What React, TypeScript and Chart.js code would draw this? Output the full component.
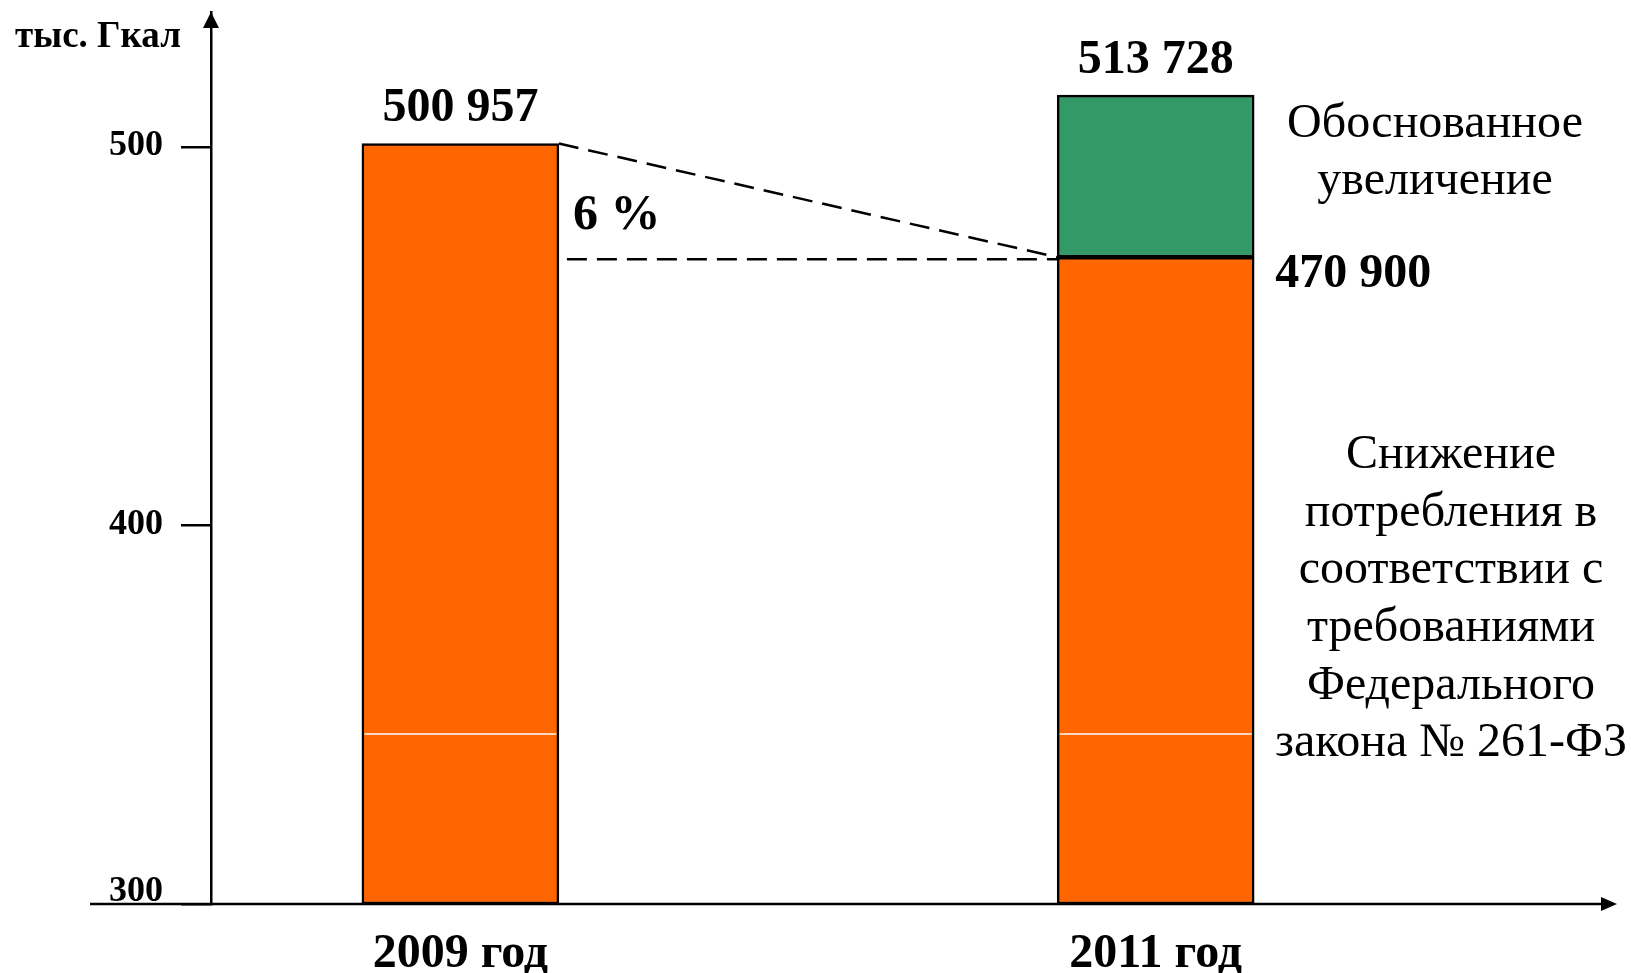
import React, { useEffect, useRef } from "react";
import { Chart, registerables } from "chart.js";

Chart.register(...registerables);

// ---- data ----
const categories = ["2009 год", "2011 год"];
const consumption = [500.957, 470.9]; // тыс. Гкал (orange part)
const totals = [null, 513.728]; // top of the green part (2011)
const yTicks = [300, 400, 500];
const splitValue = 344.9; // thin white line inside the orange bars
const axisMin = 300;
const axisMax = 535.7;
const unitLabel = "тыс. Гкал";
const increaseLabel = ["Обоснованное", "увеличение"];
const reductionLabel = [
  "Снижение",
  "потребления в",
  "соответствии с",
  "требованиями",
  "Федерального",
  "закона № 261-ФЗ",
];

const FAMILY = '"Liberation Serif", "Times New Roman", serif';
const ORANGE = "#FF6600";
const GREEN = "#339966";

const fmt = (v: number) =>
  Math.round(v * 1000)
    .toString()
    .replace(/\B(?=(\d{3})+(?!\d))/g, " ");

const annotations = {
  id: "annotations",
  afterDraw(chart: any) {
    const ctx = chart.ctx;
    const area = chart.chartArea;
    const ys = chart.scales.y;
    const orange = chart.getDatasetMeta(0).data;
    const green = chart.getDatasetMeta(1).data;
    const b0 = orange[0];
    const b1 = orange[1];
    const g1 = green[0];
    ctx.save();

    // thin white split lines inside orange bars
    const ySplit = ys.getPixelForValue(splitValue);
    ctx.strokeStyle = "#ffffff";
    ctx.lineWidth = 1.5;
    for (const b of orange) {
      ctx.beginPath();
      ctx.moveTo(b.x - b.width / 2 + 2.5, ySplit);
      ctx.lineTo(b.x + b.width / 2 - 2.5, ySplit);
      ctx.stroke();
    }

    // x axis line with arrow
    const yAxisPix = area.bottom;
    ctx.strokeStyle = "#000";
    ctx.fillStyle = "#000";
    ctx.lineWidth = 2.5;
    ctx.beginPath();
    ctx.moveTo(area.left - 121, yAxisPix);
    ctx.lineTo(area.right - 8, yAxisPix);
    ctx.stroke();
    ctx.beginPath();
    ctx.moveTo(area.right, yAxisPix);
    ctx.lineTo(area.right - 16, yAxisPix - 7);
    ctx.lineTo(area.right - 16, yAxisPix + 7);
    ctx.closePath();
    ctx.fill();

    // y axis arrow head
    ctx.beginPath();
    ctx.moveTo(area.left, area.top);
    ctx.lineTo(area.left - 8, area.top + 16);
    ctx.lineTo(area.left + 8, area.top + 16);
    ctx.closePath();
    ctx.fill();

    // dashed lines
    const yA = ys.getPixelForValue(consumption[0]);
    const yB = ys.getPixelForValue(consumption[1]);
    const r0 = b0.x + b0.width / 2;
    const l1 = b1.x - b1.width / 2;
    ctx.setLineDash([20, 10]);
    ctx.lineWidth = 2.5;
    ctx.beginPath();
    ctx.moveTo(r0, yA);
    ctx.lineTo(l1, yB);
    ctx.stroke();
    ctx.beginPath();
    ctx.moveTo(r0 + 8, yB + 2);
    ctx.lineTo(l1, yB + 2);
    ctx.stroke();
    ctx.setLineDash([]);

    // value labels
    ctx.fillStyle = "#000";
    ctx.textBaseline = "middle";
    ctx.textAlign = "center";
    ctx.font = `bold 48px ${FAMILY}`;
    ctx.fillText(fmt(consumption[0]), b0.x, b0.y - 35);
    if (g1) ctx.fillText(fmt(totals[1] as number), g1.x, g1.y - 35);
    ctx.textAlign = "left";
    ctx.fillText(fmt(consumption[1]), b1.x + b1.width / 2 + 21, yB + 17);
    const pct = Math.round((1 - consumption[1] / consumption[0]) * 100);
    ctx.font = `bold 50px ${FAMILY}`;
    ctx.fillText(`${pct} %`, r0 + 14, yB - 41);

    // unit label
    ctx.textAlign = "center";
    ctx.font = `bold 37px ${FAMILY}`;
    ctx.fillText(unitLabel, 98, 37);

    // right side descriptions
    ctx.font = `48px ${FAMILY}`;
    increaseLabel.forEach((t, i) => ctx.fillText(t, 1435, 124 + i * 57.5));
    reductionLabel.forEach((t, i) => ctx.fillText(t, 1451, 455.5 + i * 57.6));

    ctx.restore();
  },
};

export default function App() {
  const ref = useRef<HTMLCanvasElement | null>(null);

  useEffect(() => {
    if (!ref.current) return;
    const chart = new Chart(ref.current, {
      type: "bar",
      data: {
        datasets: [
          {
            label: "Снижение потребления",
            data: consumption.map((v, i) => ({ x: i, y: [axisMin, v] })) as any,
            backgroundColor: ORANGE,
            borderColor: "#000",
            borderWidth: 2.5,
            borderSkipped: false,
            barThickness: 197,
            grouped: false,
          } as any,
          {
            label: "Обоснованное увеличение",
            data: totals
              .map((v, i) => (v == null ? null : { x: i, y: [consumption[i], v] }))
              .filter((d) => d !== null) as any,
            backgroundColor: GREEN,
            borderColor: "#000",
            borderWidth: 2.5,
            borderSkipped: false,
            barThickness: 197,
            grouped: false,
          } as any,
        ],
      },
      options: {
        responsive: false,
        animation: false,
        layout: { padding: { top: 12, right: 14, left: 0, bottom: 0 } },
        plugins: { legend: { display: false }, tooltip: { enabled: false } },
        scales: {
          x: {
            type: "linear",
            offset: false,
            min: -0.3587,
            max: 1.6635,
            afterBuildTicks: (s: any) => {
              s.ticks = categories.map((_, i) => ({ value: i }));
            },
            afterFit: (s: any) => {
              s.height = 69;
              s.paddingLeft = 0;
              s.paddingRight = 0;
            },
            grid: { display: false, drawTicks: false },
            border: { display: false },
            ticks: {
              padding: 22,
              color: "#000",
              maxRotation: 0,
              autoSkip: false,
              font: { family: FAMILY, size: 48, weight: "bold" },
              callback: (v: any) => categories[v] ?? "",
            },
          },
          y: {
            min: axisMin,
            max: axisMax,
            afterBuildTicks: (s: any) => {
              s.ticks = yTicks.map((v) => ({ value: v }));
            },
            afterFit: (s: any) => {
              s.width = 211;
              s.paddingTop = 0;
              s.paddingBottom = 0;
            },
            border: { display: true, color: "#000", width: 2.5 },
            grid: {
              display: true,
              drawOnChartArea: false,
              drawTicks: true,
              tickLength: 30,
              color: "#000",
              lineWidth: 2.5,
            },
            ticks: {
              padding: 18,
              color: "#000",
              labelOffset: -1,
              font: { family: FAMILY, size: 36, weight: "bold", lineHeight: 0.6 },
              callback: (v: any) => (v === axisMin ? [String(v), ""] : String(v)),
            },
          },
        },
      } as any,
      plugins: [annotations],
    });
    return () => chart.destroy();
  }, []);

  return (
    <div
      style={{
        position: "fixed",
        left: 0,
        top: 0,
        width: 1631,
        height: 973,
        background: "#fff",
      }}
    >
      <canvas ref={ref} width={1631} height={973} style={{ display: "block" }} />
    </div>
  );
}
